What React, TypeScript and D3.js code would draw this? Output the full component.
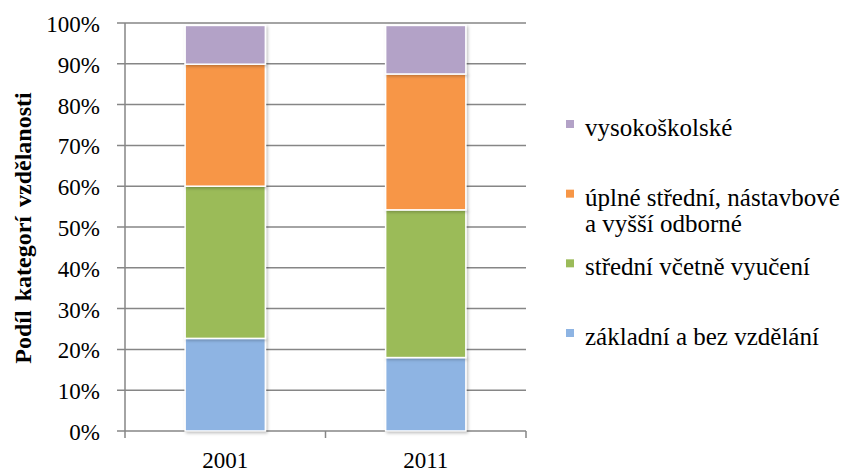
import React, { useEffect, useRef } from 'react';
import * as d3 from 'd3';

// data (share of each category, in %)
const years = ['2001', '2011'];
const categories = [
  'základní a bez vzdělání',
  'střední včetně vyučení',
  'úplné střední, nástavbové a vyšší odborné',
  'vysokoškolské',
];
const zakladni = [22.7, 18.0];
const stredni = [37.3, 36.2];
const uplneStredni = [29.9, 33.3];
const vysokoskolske = [9.5, 11.9];
const yTicks = [0, 10, 20, 30, 40, 50, 60, 70, 80, 90, 100];
const colors = ['#8EB4E3', '#9BBB59', '#F79646', '#B3A2C7'];

const App = () => {
  const svgRef = useRef(null);

  useEffect(() => {
    const width = 844;
    const height = 473;
    const svg = d3.select(svgRef.current);
    svg.selectAll('*').remove();
    svg.attr('width', width).attr('height', height);

    const font = '"Liberation Serif", "Times New Roman", serif';
    const gridColor = '#868686';

    const plot = { left: 125, right: 526, top: 23, bottom: 431 };

    const x = d3.scaleBand()
      .domain(years)
      .range([plot.left, plot.right])
      .paddingInner(0.6)
      .paddingOuter(0.3);

    const y = d3.scaleLinear()
      .domain([0, 100])
      .range([plot.bottom, plot.top]);

    // shadow for the bars
    const defs = svg.append('defs');
    const filter = defs.append('filter')
      .attr('id', 'barShadow')
      .attr('x', '-20%').attr('y', '-20%')
      .attr('width', '140%').attr('height', '140%');
    filter.append('feDropShadow')
      .attr('dx', 1.5).attr('dy', 1.5)
      .attr('stdDeviation', 1.5)
      .attr('flood-color', '#000')
      .attr('flood-opacity', 0.25);

    // gridlines + y ticks
    svg.append('g')
      .selectAll('line')
      .data(yTicks)
      .enter().append('line')
      .attr('x1', plot.left - 8)
      .attr('x2', plot.right)
      .attr('y1', d => y(d))
      .attr('y2', d => y(d))
      .attr('stroke', gridColor)
      .attr('stroke-width', 1.5);

    // y axis line
    svg.append('line')
      .attr('x1', plot.left).attr('x2', plot.left)
      .attr('y1', plot.top).attr('y2', plot.bottom)
      .attr('stroke', gridColor)
      .attr('stroke-width', 1.5);

    // x axis ticks (category boundaries)
    const step = x.step();
    const xBounds = [plot.left, plot.left + step, plot.right];
    svg.append('g')
      .selectAll('line')
      .data(xBounds)
      .enter().append('line')
      .attr('x1', d => d).attr('x2', d => d)
      .attr('y1', plot.bottom).attr('y2', plot.bottom + 7)
      .attr('stroke', gridColor)
      .attr('stroke-width', 1.5);

    // y tick labels
    svg.append('g')
      .selectAll('text')
      .data(yTicks)
      .enter().append('text')
      .attr('x', 100)
      .attr('y', d => y(d) + 9)
      .attr('text-anchor', 'end')
      .attr('font-family', font)
      .attr('font-size', '23px')
      .attr('fill', '#000')
      .text(d => `${d}%`);

    // x labels
    svg.append('g')
      .selectAll('text')
      .data(years)
      .enter().append('text')
      .attr('x', d => x(d) + x.bandwidth() / 2)
      .attr('y', 468)
      .attr('text-anchor', 'middle')
      .attr('font-family', font)
      .attr('font-size', '23px')
      .attr('fill', '#000')
      .text(d => d);

    // stacked bars
    const rows = years.map((yr, i) => ({
      year: yr,
      [categories[0]]: zakladni[i],
      [categories[1]]: stredni[i],
      [categories[2]]: uplneStredni[i],
      [categories[3]]: vysokoskolske[i],
    }));
    const series = d3.stack().keys(categories)(rows);

    const barGroup = svg.append('g');
    series.forEach((s, si) => {
      barGroup.append('g')
        .selectAll('rect')
        .data(s)
        .enter().append('rect')
        .attr('x', d => x(d.data.year))
        .attr('width', x.bandwidth())
        .attr('y', d => y(d[1]))
        .attr('height', d => y(d[0]) - y(d[1]))
        .attr('fill', colors[si])
        .attr('stroke', '#fff')
        .attr('stroke-width', 1.5)
        .attr('filter', 'url(#barShadow)');
    });

    // y axis title
    svg.append('text')
      .attr('transform', 'translate(31, 228) rotate(-90)')
      .attr('text-anchor', 'middle')
      .attr('font-family', font)
      .attr('font-size', '24px')
      .attr('font-weight', 'bold')
      .attr('word-spacing', '3px')
      .attr('fill', '#000')
      .text('Podíl kategorí vzdělanosti');

    // legend (top to bottom: reversed stack order)
    const legendItems = categories.map((c, i) => ({ label: c, color: colors[i] })).reverse();
    const legendY = d3.scalePoint()
      .domain(legendItems.map(d => d.label))
      .range([124, 333]);

    const legend = svg.append('g');
    const legendLines = {
      'úplné střední, nástavbové a vyšší odborné': ['úplné střední, nástavbové', 'a vyšší odborné'],
    };
    legendItems.forEach(item => {
      const cy = legendY(item.label);
      legend.append('rect')
        .attr('x', 566)
        .attr('y', cy - 4)
        .attr('width', 8)
        .attr('height', 8)
        .attr('fill', item.color);
      const lines = legendLines[item.label] || [item.label];
      const t = legend.append('text')
        .attr('font-family', font)
        .attr('font-size', '25px')
        .attr('fill', '#000');
      lines.forEach((ln, li) => {
        t.append('tspan')
          .attr('x', 585)
          .attr('y', cy + 12 + li * 26)
          .text(ln);
      });
    });
  }, []);

  return (
    <div style={{ position: 'fixed', left: 0, top: 0, width: 844, height: 473, background: '#fff' }}>
      <svg ref={svgRef}></svg>
    </div>
  );
};

export default App;
